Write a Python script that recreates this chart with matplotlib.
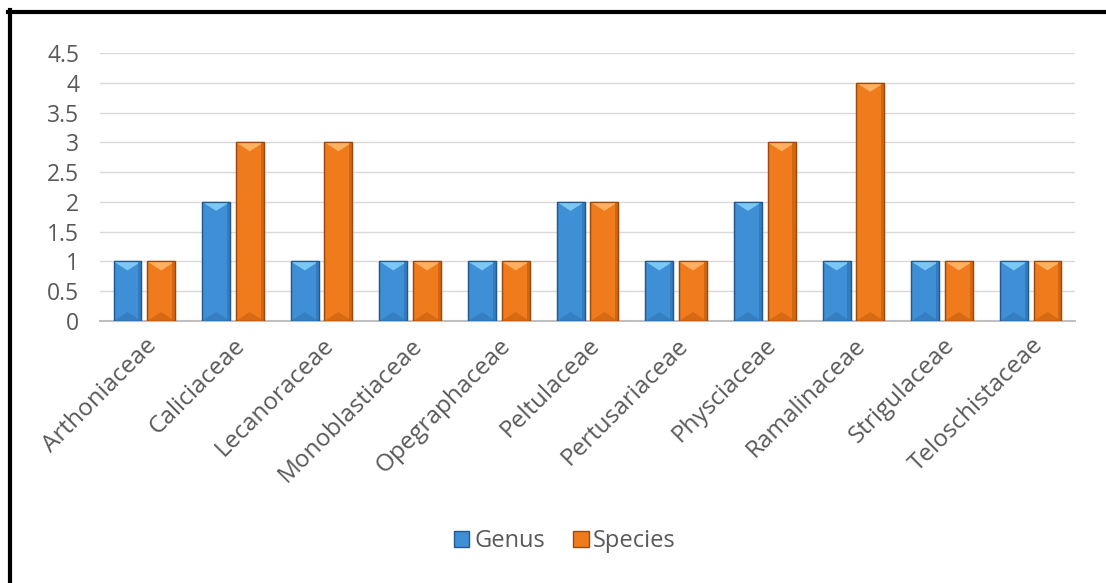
import matplotlib
matplotlib.use("Agg")
import matplotlib.pyplot as plt
from matplotlib.patches import Polygon
from matplotlib.lines import Line2D
import numpy as np

families = ["Arthoniaceae", "Caliciaceae", "Lecanoraceae", "Monoblastiaceae",
            "Opegraphaceae", "Peltulaceae", "Pertusariaceae", "Physciaceae",
            "Ramalinaceae", "Strigulaceae", "Teloschistaceae"]
genus = [1, 2, 1, 1, 1, 2, 1, 2, 1, 1, 1]
species = [1, 3, 3, 1, 1, 2, 1, 3, 4, 1, 1]
yticks = [0, 0.5, 1, 1.5, 2, 2.5, 3, 3.5, 4, 4.5]
ytick_labels = ["0", "0.5", "1", "1.5", "2", "2.5", "3", "3.5", "4", "4.5"]

plt.rcParams['font.family'] = ['Open Sans', 'DejaVu Sans']
text_grey = "#595959"

fig = plt.figure(figsize=(11.06, 5.83), dpi=100)
ax = fig.add_axes([100 / 1106, 1 - 321 / 583, 975 / 1106, (321 - 53) / 583])

x = np.arange(len(families))
w = 0.315
off = 0.19

styles = {
    "Genus": dict(face="#3f8fd6", top="#7cc8f4", bottom="#2f74b5", edge="#23598c"),
    "Species": dict(face="#f07b1c", top="#ffb060", bottom="#c85e0e", edge="#9c4a0c"),
}

ax.set_xlim(-0.5, len(families) - 0.5)
ax.set_ylim(0, 4.5)
ymin, ymax = ax.get_ylim()
px_per_y = (321 - 53) / (ymax - ymin)


def bevel_bars(positions, values, st, label):
    bars = ax.bar(positions, values, width=w, color=st["face"], edgecolor=st["edge"],
                  linewidth=0.9, label=label, zorder=3)
    dy = 9 / px_per_y
    for b in bars:
        x0 = b.get_x()
        x1 = x0 + b.get_width()
        xc = (x0 + x1) / 2
        h = b.get_height()
        # lighter top facet
        ax.add_patch(Polygon([(x0, h), (x1, h), (xc, h - dy)], closed=True,
                             facecolor=st["top"], edgecolor="none", zorder=4))
        # darker right side shading
        ax.add_patch(Polygon([(x1 - 0.035, h), (x1, h), (x1, 0), (x1 - 0.035, 0)],
                             closed=True, facecolor=st["bottom"], edgecolor="none",
                             alpha=0.7, zorder=4))
        # darker bottom facet
        ax.add_patch(Polygon([(x0, 0), (x1, 0), (xc, dy)], closed=True,
                             facecolor=st["bottom"], edgecolor="none", alpha=0.6, zorder=4))
        ax.add_patch(Polygon([(x0, 0), (x1, 0), (x1, h), (x0, h)], closed=True,
                             facecolor="none", edgecolor=st["edge"], linewidth=0.9, zorder=5))
    return bars


bevel_bars(x - off, genus, styles["Genus"], "Genus")
bevel_bars(x + off, species, styles["Species"], "Species")

ax.set_yticks(yticks)
ax.set_yticklabels(ytick_labels, fontsize=16.5, color=text_grey)
ax.set_xticks(x)
ax.set_xticklabels(families, rotation=45, ha="right", rotation_mode="anchor",
                   fontsize=17.5, color=text_grey)
ax.tick_params(axis="both", length=0)
ax.tick_params(axis="y", pad=15)
ax.tick_params(axis="x", pad=9)
ax.yaxis.grid(True, color="#d9d9d9", linewidth=1.0, zorder=0)
ax.set_axisbelow(True)
for s in ["top", "right", "left"]:
    ax.spines[s].set_visible(False)
ax.spines["bottom"].set_color("#bfbfbf")
ax.spines["bottom"].set_linewidth(1.5)
ax.spines["bottom"].set_zorder(2)

handles = [
    plt.Rectangle((0, 0), 1, 1, facecolor=styles["Genus"]["face"], edgecolor=styles["Genus"]["edge"]),
    plt.Rectangle((0, 0), 1, 1, facecolor=styles["Species"]["face"], edgecolor=styles["Species"]["edge"]),
]
leg = fig.legend(handles, ["Genus", "Species"], loc="center", ncol=2,
                 bbox_to_anchor=(565 / 1106, 1 - 541 / 583), frameon=False,
                 fontsize=17, handlelength=0.65, handleheight=0.65, handletextpad=0.2,
                 columnspacing=1.2)
for t in leg.get_texts():
    t.set_color(text_grey)

# outer frame: top and left edges
fig.add_artist(Line2D([8 / 1106, 1], [1 - 11.5 / 583, 1 - 11.5 / 583],
                      color="black", linewidth=3, transform=fig.transFigure))
fig.add_artist(Line2D([10 / 1106, 10 / 1106], [0, 1 - 10 / 583],
                      color="black", linewidth=3, transform=fig.transFigure))

fig.savefig("out.png", dpi=100)
